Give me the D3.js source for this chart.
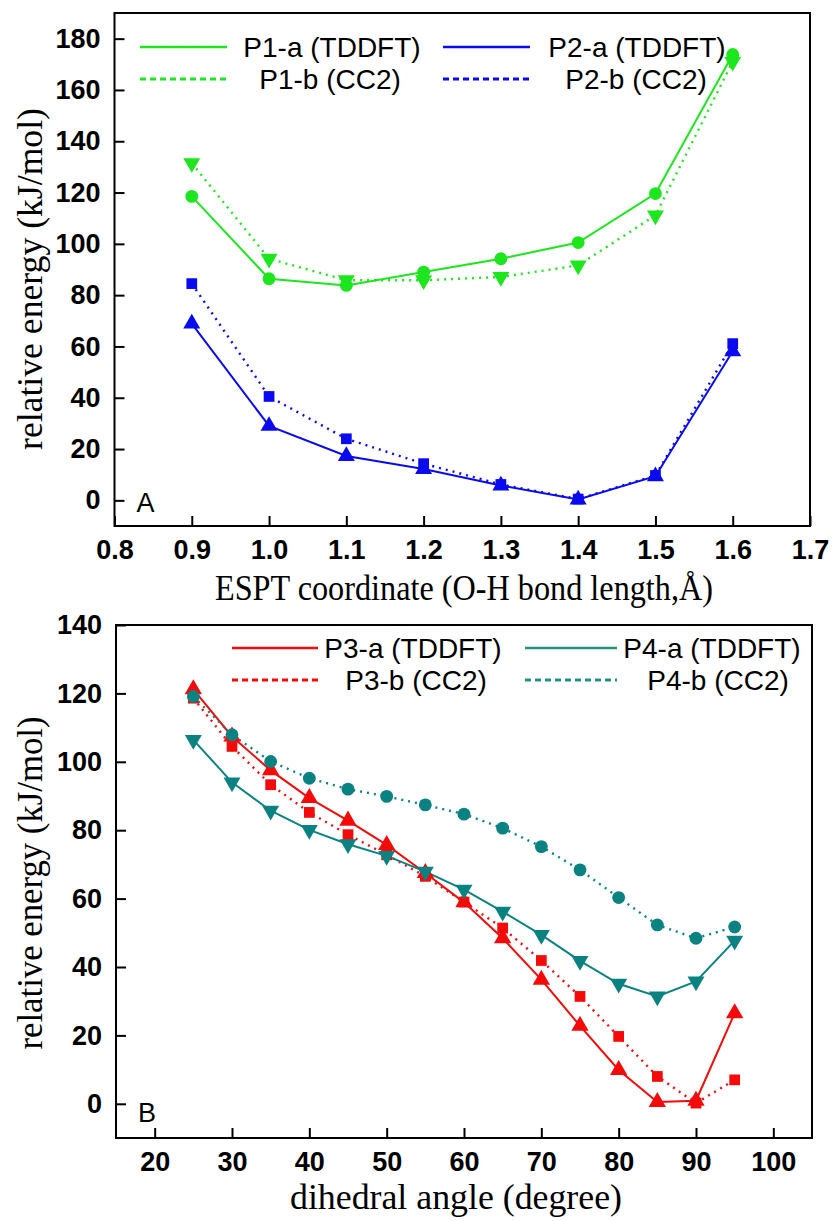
<!DOCTYPE html>
<html>
<head>
<meta charset="utf-8">
<script src="https://cdn.jsdelivr.net/npm/d3@7/dist/d3.min.js"></script>
<style>
  body { margin: 0; background: #fff; }
  svg { display: block; }
</style>
</head>
<body>
<svg id="chart" width="833" height="1221"></svg>
<script>
// panel A: ESPT coordinate
const bondLength = [0.9, 1.0, 1.1, 1.2, 1.3, 1.4, 1.5, 1.6];
const p1a = [118.5, 86.4, 83.8, 89.0, 94.2, 100.5, 119.6, 173.8];
const p1b = [131.5, 94.2, 85.8, 85.8, 87.1, 91.6, 111.1, 171.0];
const p2a = [68.9, 29.0, 17.3, 12.2, 5.8, 0.3, 9.4, 58.1];
const p2b = [84.5, 40.5, 24.0, 14.3, 6.2, 0.5, 9.7, 61.1];

// panel B: dihedral angle
const dihedral = [25, 30, 35, 40, 45, 50, 55, 60, 65, 70, 75, 80, 85, 90, 95];
const p3a = [121.2, 107.4, 97.5, 89.4, 82.8, 75.7, 67.5, 58.9, 48.4, 36.3, 22.8, 9.9, 0.5, 0.9, 26.5];
const p3b = [118.6, 104.5, 93.3, 85.2, 78.7, 72.8, 66.5, 59.0, 51.4, 41.9, 31.4, 19.7, 8.0, 0.2, 7.0];
const p4a = [106.4, 94.0, 85.7, 80.1, 75.9, 72.5, 67.9, 62.6, 56.2, 49.4, 41.8, 35.1, 31.4, 35.8, 47.7];
const p4b = [119.1, 107.9, 100.1, 95.2, 92.0, 89.9, 87.4, 84.7, 80.6, 75.2, 68.4, 60.3, 52.3, 48.4, 51.7];

const ticksAX = [0.8, 0.9, 1.0, 1.1, 1.2, 1.3, 1.4, 1.5, 1.6, 1.7];
const ticksAY = [0, 20, 40, 60, 80, 100, 120, 140, 160, 180];
const ticksBX = [20, 30, 40, 50, 60, 70, 80, 90, 100];
const ticksBY = [0, 20, 40, 60, 80, 100, 120, 140];

const GREEN = "#1ee61e";
const BLUE = "#0a0af0";
const RED = "#f50a0a";
const TEAL = "#0b8282";

const SANS = "'Liberation Sans', Arial, sans-serif";
const SERIF = "'Liberation Serif', 'Times New Roman', serif";

const svg = d3.select("#chart");

function styleAxis(sel, fontSize) {
  sel.select(".domain").remove();
  sel.selectAll(".tick line").attr("stroke", "#000").attr("stroke-width", 2);
  sel.selectAll(".tick text")
    .attr("fill", "#000")
    .attr("font-family", SANS)
    .attr("font-weight", "bold")
    .attr("font-size", fontSize);
}

function drawPanel(p) {
  const x = d3.scaleLinear().domain(p.xDomain).range([p.left, p.right]);
  const y = d3.scaleLinear().domain(p.yDomain).range([p.bottom, p.top]);
  const g = svg.append("g");

  g.append("g")
    .attr("transform", `translate(0,${p.bottom})`)
    .call(d3.axisBottom(x).tickValues(p.xTicks).tickFormat(p.xFormat)
      .tickSizeInner(-10).tickSizeOuter(0).tickPadding(14))
    .call(styleAxis, 27);

  g.append("g")
    .attr("transform", `translate(${p.left},0)`)
    .call(d3.axisLeft(y).tickValues(p.yTicks).tickFormat(d3.format("d"))
      .tickSizeInner(-10).tickSizeOuter(0).tickPadding(14))
    .call(styleAxis, 27);

  g.append("rect")
    .attr("x", p.left).attr("y", p.top)
    .attr("width", p.right - p.left).attr("height", p.bottom - p.top)
    .attr("fill", "none").attr("stroke", "#000").attr("stroke-width", 2);

  const line = d3.line().curve(p.curve);

  p.series.forEach((s) => {
    const pts = s.values.map((v, i) => [x(p.xs[i]), y(v)]);
    g.append("path")
      .attr("d", line(pts))
      .attr("fill", "none")
      .attr("stroke", s.color)
      .attr("stroke-width", s.dashed ? 2.4 : 2)
      .attr("stroke-dasharray", s.dashed ? "2,5" : null);
  });

  p.series.forEach((s) => {
    const sym = d3.symbol().type(s.symbol).size(s.size);
    g.append("g").selectAll("path")
      .data(s.values)
      .join("path")
      .attr("d", sym)
      .attr("fill", s.color)
      .attr("transform", (v, i) =>
        `translate(${x(p.xs[i])},${y(v)})` + (s.flip ? " rotate(180)" : ""));
  });

  // legend
  const leg = g.append("g");
  p.series.forEach((s) => {
    const col = p.legend.cols[s.col];
    const ly = p.legend.rows[s.row];
    leg.append("line")
      .attr("x1", col.x1).attr("x2", col.x2)
      .attr("y1", ly).attr("y2", ly)
      .attr("stroke", s.legendColor || s.color)
      .attr("stroke-width", s.dashed ? 3 : 2.5)
      .attr("stroke-dasharray", s.dashed ? "6,4" : null);
    leg.append("text")
      .attr("x", col.textX[s.row])
      .attr("y", ly + 10)
      .attr("text-anchor", "middle")
      .attr("font-family", SANS)
      .attr("font-size", 28)
      .attr("fill", "#000")
      .text(s.name);
  });

  g.append("text")
    .attr("x", p.left + 22).attr("y", p.letterY)
    .attr("font-family", SANS).attr("font-size", 27)
    .text(p.letter);

  g.append("text")
    .attr("x", p.xTitleX).attr("y", p.xTitleY)
    .attr("text-anchor", "middle")
    .attr("font-family", SERIF).attr("font-size", 35)
    .attr("textLength", p.xTitleLen).attr("lengthAdjust", "spacingAndGlyphs")
    .text(p.xTitle);

  g.append("text")
    .attr("transform", `translate(42,${p.yTitleY}) rotate(-90)`)
    .attr("text-anchor", "middle")
    .attr("font-family", SERIF).attr("font-size", 35)
    .attr("textLength", p.yTitleLen).attr("lengthAdjust", "spacingAndGlyphs")
    .text("relative energy (kJ/mol)");
}

drawPanel({
  left: 114.5, right: 810, top: 13, bottom: 526,
  xDomain: [0.8, 1.7], yDomain: [-10, 190],
  xTicks: ticksAX, yTicks: ticksAY, xFormat: d3.format(".1f"),
  xs: bondLength,
  curve: d3.curveLinear,
  series: [
    { name: "P1-a (TDDFT)", values: p1a, color: GREEN, dashed: false, symbol: d3.symbolCircle, size: 130, col: 0, row: 0 },
    { name: "P1-b (CC2)", values: p1b, color: GREEN, dashed: true, symbol: d3.symbolTriangle, size: 125, flip: true, col: 0, row: 1 },
    { name: "P2-a (TDDFT)", values: p2a, color: BLUE, dashed: false, symbol: d3.symbolTriangle, size: 125, col: 1, row: 0 },
    { name: "P2-b (CC2)", values: p2b, color: BLUE, dashed: true, symbol: d3.symbolSquare, size: 115, col: 1, row: 1 }
  ],
  legend: {
    rows: [47, 79],
    cols: [
      { x1: 140, x2: 227, textX: [332, 330] },
      { x1: 443, x2: 530, textX: [637, 636] }
    ]
  },
  letter: "A", letterY: 512,
  xTitle: "ESPT coordinate (O-H bond length,Å)", xTitleX: 464, xTitleY: 600, xTitleLen: 498,
  yTitleY: 279, yTitleLen: 342
});

drawPanel({
  left: 116, right: 812, top: 625, bottom: 1138,
  xDomain: [15, 105], yDomain: [-10, 140],
  xTicks: ticksBX, yTicks: ticksBY, xFormat: d3.format("d"),
  xs: dihedral,
  curve: d3.curveLinear,
  series: [
    { name: "P3-a (TDDFT)", values: p3a, color: RED, dashed: false, symbol: d3.symbolTriangle, size: 130, col: 0, row: 0 },
    { name: "P3-b (CC2)", values: p3b, color: RED, dashed: true, symbol: d3.symbolSquare, size: 115, col: 0, row: 1 },
    { name: "P4-a (TDDFT)", values: p4a, color: TEAL, legendColor: "#23937a", dashed: false, symbol: d3.symbolTriangle, size: 125, flip: true, col: 1, row: 0 },
    { name: "P4-b (CC2)", values: p4b, color: TEAL, legendColor: "#23937a", dashed: true, symbol: d3.symbolCircle, size: 130, col: 1, row: 1 }
  ],
  legend: {
    rows: [648, 680],
    cols: [
      { x1: 232, x2: 318, textX: [413, 416] },
      { x1: 525, x2: 617, textX: [712, 718] }
    ]
  },
  letter: "B", letterY: 1122,
  xTitle: "dihedral angle (degree)", xTitleX: 456, xTitleY: 1209, xTitleLen: 332,
  yTitleY: 883, yTitleLen: 333
});
</script>
</body>
</html>
